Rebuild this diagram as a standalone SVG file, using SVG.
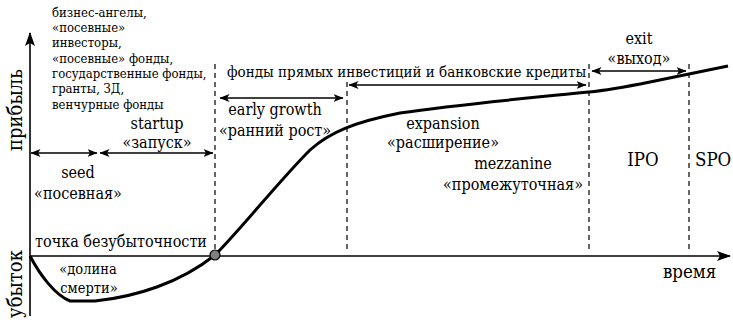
<svg xmlns="http://www.w3.org/2000/svg" width="733" height="320" viewBox="0 0 733 320">
<style>
text{font-family:"DejaVu Serif Condensed","DejaVu Serif",serif;fill:#000}
.s{font-size:13px}
.v{font-size:14.5px;text-anchor:middle}
.m{font-size:16px}
.pe{font-size:15px}
.c{text-anchor:middle}
.b{font-size:18.5px}
.y{font-size:20px;text-anchor:middle}
.ax{stroke:#000;stroke-width:1.6;fill:none}
.ar{stroke:#000;stroke-width:1.3;fill:none;marker-start:url(#ah);marker-end:url(#ah)}
.d{stroke:#000;stroke-width:1.2;stroke-dasharray:5,4;fill:none}
</style>
<defs>
<marker id="ah" viewBox="0 0 10 8" refX="9.5" refY="4" markerWidth="10" markerHeight="8" markerUnits="userSpaceOnUse" orient="auto-start-reverse">
<path d="M0,0 L10,4 L0,8 L2.5,4 Z" fill="#000"/>
</marker>
<marker id="axh" viewBox="0 0 14 10" refX="13" refY="5" markerWidth="14" markerHeight="10" markerUnits="userSpaceOnUse" orient="auto">
<path d="M0,0 L14,5 L0,10 L3,5 Z" fill="#000"/>
</marker>
</defs>
<g id="axes">
<line class="ax" x1="30" y1="316" x2="30" y2="33" marker-end="url(#axh)"/>
<line class="ax" x1="30" y1="256" x2="730" y2="256" marker-end="url(#axh)"/>
<text class="y" transform="translate(22,110) rotate(-90)">прибыль</text>
<text class="y" transform="translate(22,284) rotate(-90)">убыток</text>
<text class="b" x="663" y="278">время</text>
</g>
<g id="dividers">
<line class="d" x1="215" y1="64" x2="215" y2="255"/>
<line class="d" x1="347" y1="82" x2="347" y2="251"/>
<line class="d" x1="589" y1="64" x2="589" y2="253"/>
<line class="d" x1="689" y1="64" x2="689" y2="249"/>
</g>
<g id="connectors">
<line class="ar" x1="31" y1="153" x2="97" y2="153"/>
<line class="ar" x1="100" y1="153" x2="213" y2="153"/>
<line class="ar" x1="220" y1="98" x2="343" y2="98"/>
<line class="ar" x1="349" y1="85" x2="586" y2="85"/>
<line class="ar" x1="592" y1="71" x2="686" y2="71"/>
</g>
<g id="curve">
<path d="M30,256 C40,275 55,295 70,301 L95,301 C135,297 180,283 215,255 C240,230 280,180 310,150 C330,132 355,122 400,113 C460,104 540,97 589,92 C610,90 620,88 650,82 L728,66" fill="none" stroke="#000" stroke-width="3" stroke-linejoin="round"/>
</g>
<g id="breakeven">
<circle cx="215" cy="255" r="5" fill="#808080" stroke="#000" stroke-width="1.2"/>
<text class="m" x="35" y="247">точка безубыточности</text>
</g>
<g id="valley">
<text class="v" x="88" y="274">«долина</text>
<text class="v" x="89" y="293">смерти»</text>
</g>
<g id="investors-early">
<text class="s" x="52" y="17">бизнес-ангелы,</text>
<text class="s" x="52" y="32">«посевные»</text>
<text class="s" x="52" y="47">инвесторы,</text>
<text class="s" x="52" y="63">«посевные» фонды,</text>
<text class="s" x="52" y="78">государственные фонды,</text>
<text class="s" x="52" y="93">гранты, ЗД,</text>
<text class="s" x="52" y="109">венчурные фонды</text>
</g>
<g id="investors-late">
<text class="pe" x="227" y="77">фонды прямых инвестиций и банковские кредиты</text>
</g>
<g id="seed">
<text class="m c" x="78" y="178">seed</text>
<text class="m c" x="78" y="199">«посевная»</text>
</g>
<g id="startup">
<text class="m c" x="157" y="129">startup</text>
<text class="m c" x="157" y="148">«запуск»</text>
</g>
<g id="early-growth">
<text class="m c" x="275" y="115">early growth</text>
<text class="m c" x="275" y="136">«ранний рост»</text>
</g>
<g id="expansion">
<text class="m c" x="443" y="129">expansion</text>
<text class="m c" x="443" y="148">«расширение»</text>
</g>
<g id="mezzanine">
<text class="m c" x="513" y="169">mezzanine</text>
<text class="m c" x="513" y="190">«промежуточная»</text>
</g>
<g id="exit">
<text class="m c" x="639" y="44">exit</text>
<text class="m c" x="639" y="64">«выход»</text>
</g>
<g id="ipo">
<text class="b c" x="643" y="166">IPO</text>
</g>
<g id="spo">
<text class="b" x="695" y="166">SPO</text>
</g>
</svg>
